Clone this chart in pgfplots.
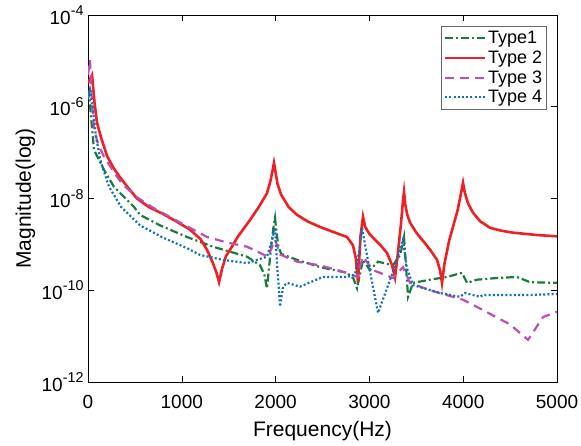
\documentclass[border=0pt]{standalone}
\usepackage{pgfplots}
\pgfplotsset{compat=1.18}
\usepackage{fontspec}
\setmainfont{Liberation Sans}
\definecolor{cgreen}{RGB}{22,125,60}
\definecolor{cred}{RGB}{238,32,36}
\definecolor{cmag}{RGB}{188,80,178}
\definecolor{cblue}{RGB}{20,110,190}
\newcommand{\tl}[1]{10\raisebox{8.5pt}{\fontsize{14.3}{16}\selectfont -#1}}
\newcommand{\lf}{\fontsize{18}{20}\selectfont}
\begin{document}
\begin{tikzpicture}
\begin{axis}[
  name=ax,
  scale only axis,
  width=469pt, height=367pt,
  ymode=log,
  xmin=0, xmax=5000, ymin=1e-12, ymax=1e-4,
  xtick={0,1000,2000,3000,4000,5000},
  xticklabels={0,1000,2000,3000,4000,5000},
  ytick={1e-12,1e-10,1e-8,1e-6,1e-4},
  yticklabels={\tl{12},\tl{10},\tl{8},\tl{6},\tl{4}},
  tick align=inside,
  tick pos=both,
  major tick length=6pt,
  minor tick length=3pt,
  every tick/.style={black, line width=0.6pt},
  axis line style={line width=0.8pt},
  ticklabel style={font=\fontsize{19}{21}\selectfont},
  xticklabel style={anchor=base, yshift=-26.5pt},
  yticklabel style={anchor=east, xshift=-1pt},
  xlabel={Frequency(Hz)},
  ylabel={Magnitude(log)},
  label style={font=\fontsize{21}{23}\selectfont},
  xlabel style={at={([yshift=-54.5pt]axis description cs:0.5,0)}, anchor=base},
  ylabel style={at={([xshift=-57pt]axis description cs:0,0.5)}, anchor=base, rotate=0},
  legend style={at={(0.9787,0.970)}, anchor=north east, draw=black!60, line width=0.8pt, inner xsep=3pt, inner ysep=3.5pt, nodes={inner sep=1.5pt}, row sep=2.6pt},
  legend cell align=left,
  legend image code/.code={\draw[#1] (0pt,0pt) -- (40pt,0pt);},
]
\addplot[cgreen, line width=2.2pt, dash pattern=on 8pt off 3pt on 2pt off 3pt] coordinates {
(0,1.6e-6)(11,2.0e-6)(32,6e-7)(64,1.15e-7)(171,4.2e-8)(277,1.8e-8)(490,6.6e-9)(554,4.4e-9)(768,2.6e-9)(1055,1.45e-9)(1333,8.9e-10)(1695,5.4e-10)(1834,3.5e-10)(1880,2.2e-10)(1908,1.1e-10)(1940,5e-10)(1975,2.2e-9)(1994,3.8e-9)(2010,1.8e-9)(2030,9e-10)(2060,6.2e-10)(2228,4.6e-10)(2473,3.2e-10)(2761,2.4e-10)(2830,1.8e-10)(2868,1.1e-10)(2932,4.6e-10)(3006,2.75e-10)(3092,4.2e-10)(3252,3.5e-10)(3330,6e-10)(3369,1.45e-9)(3412,7.2e-11)(3465,1.45e-10)(3646,1.7e-10)(3827,1.95e-10)(3987,2.4e-10)(4041,1.45e-10)(4147,1.7e-10)(4360,1.85e-10)(4574,1.95e-10)(4712,1.5e-10)(5000,1.45e-10)
};
\addlegendentry{\lf Type1}
\addplot[cred, line width=2.6pt] coordinates {
(0,3.3e-6)(43,4.9e-6)(70,1.2e-6)(96,4.5e-7)(140,2.1e-7)(203,8.5e-8)(270,4.7e-8)(341,2.9e-8)(420,1.8e-8)(522,1.0e-8)(650,6.5e-9)(800,4.6e-9)(950,3.1e-9)(1087,2.1e-9)(1200,1.3e-9)(1269,7.6e-10)(1330,4e-10)(1370,2.4e-10)(1397,1.5e-10)(1430,3e-10)(1470,5.5e-10)(1514,7.6e-10)(1600,1.5e-9)(1727,3.4e-9)(1820,6.5e-9)(1908,1.3e-8)(1945,2.4e-8)(1970,4.3e-8)(1983,6.0e-8)(1995,4.3e-8)(2020,2.1e-8)(2060,1.2e-8)(2140,6.5e-9)(2228,4.4e-9)(2350,3.1e-9)(2473,2.4e-9)(2620,1.85e-9)(2761,1.45e-9)(2825,9.5e-10)(2855,5e-10)(2878,1.5e-10)(2905,1.5e-9)(2932,4.0e-9)(2955,2.4e-9)(3000,1.7e-9)(3038,1.4e-9)(3120,9.5e-10)(3188,6.5e-10)(3240,3.6e-10)(3273,1.9e-10)(3300,5.5e-10)(3335,2.6e-9)(3358,9e-9)(3369,1.4e-8)(3382,7.5e-9)(3405,4.3e-9)(3433,3.0e-9)(3500,1.8e-9)(3571,1.2e-9)(3650,7.5e-10)(3721,4.6e-10)(3755,2.6e-10)(3774,1.45e-10)(3800,3.8e-10)(3850,1.2e-9)(3891,2.4e-9)(3940,5.5e-9)(3975,1.25e-8)(3998,2.2e-8)(4015,1.4e-8)(4050,8e-9)(4104,4.9e-9)(4180,3.2e-9)(4286,2.3e-9)(4400,2.0e-9)(4531,1.8e-9)(4787,1.6e-9)(5000,1.5e-9)
};
\addlegendentry{\lf Type 2}
\addplot[cmag, line width=2.2pt, dash pattern=on 9pt off 6pt] coordinates {
(0,5e-6)(21,1.05e-5)(40,1.5e-6)(64,3.2e-7)(110,1.5e-7)(171,8.1e-8)(309,3.0e-8)(373,2.0e-8)(522,1.07e-8)(693,6.3e-9)(981,3.0e-9)(1269,1.45e-9)(1482,1.1e-9)(1695,8.9e-10)(1919,5.4e-10)(1994,1.26e-9)(2050,6e-10)(2228,4.2e-10)(2473,3.5e-10)(2761,2.4e-10)(2868,1.95e-10)(2932,5.4e-10)(3038,2.75e-10)(3252,1.85e-10)(3358,3.2e-10)(3433,1.45e-10)(3646,1.0e-10)(3998,6.2e-11)(4211,3.7e-11)(4499,1.8e-11)(4691,8.3e-12)(4851,2.6e-11)(5000,3.4e-11)
};
\addlegendentry{\lf Type 3}
\addplot[cblue, line width=2.2pt, dash pattern=on 2pt off 2.2pt] coordinates {
(0,1.5e-6)(21,2.3e-6)(53,8.5e-7)(85,2.2e-7)(139,6.0e-8)(224,1.8e-8)(352,6.6e-9)(554,2.6e-9)(800,1.4e-9)(1055,8.3e-10)(1194,5.9e-10)(1439,4.6e-10)(1695,3.9e-10)(1908,5.4e-10)(1960,1.2e-9)(1994,2.3e-9)(2015,4e-10)(2047,4.4e-11)(2080,1.2e-10)(2122,1.45e-10)(2260,1.2e-10)(2505,1.95e-10)(2761,1.95e-10)(2846,2.2e-10)(2890,7e-10)(2921,2.3e-9)(3000,3e-10)(3092,3.2e-11)(3250,2.5e-10)(3358,1.26e-9)(3400,3e-10)(3465,1.3e-10)(3753,8.7e-11)(3966,7.2e-11)(4019,8.7e-11)(4179,7.2e-11)(4211,7.9e-11)(4712,7.9e-11)(5000,8.3e-11)
};
\addlegendentry{\lf Type 4}
\end{axis}
\pgfresetboundingbox
\path ([shift={(-88pt,-63pt)}]ax.south west) rectangle ([shift={(24pt,15pt)}]ax.north east);
\end{tikzpicture}
\end{document}
